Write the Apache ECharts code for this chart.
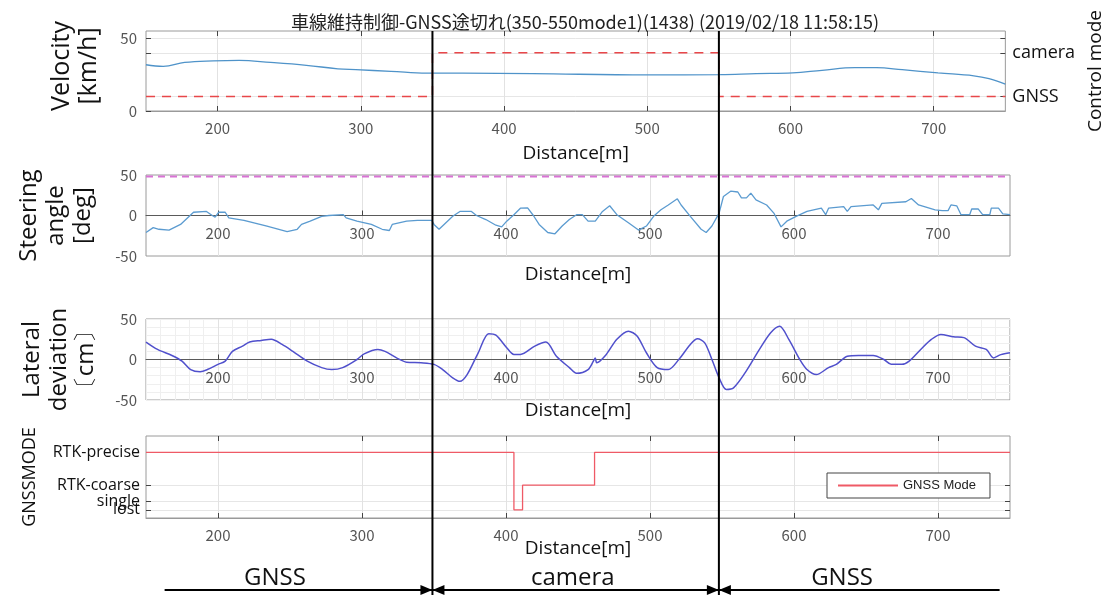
<!DOCTYPE html>
<html><head><meta charset="utf-8">
<script src="https://cdn.jsdelivr.net/npm/echarts@6/dist/echarts.min.js"></script>
<style>html,body{margin:0;padding:0;background:#fff}#c{width:1113px;height:595px}</style>
</head><body><div id="c"></div>
<script>
// ---------------- data ----------------
const titleText = '車線維持制御-GNSS途切れ(350-550mode1)(1438) (2019/02/18 11:58:15)';
const distanceTicks = [200, 300, 400, 500, 600, 700];

const velocityX = [150,162,177,197,215,237,262,284,296.5,321,346,371,420,500,551,576,601.5,622,645,660,678,703,728,738.6,750];
const velocityY = [31.8,30.7,33.4,34.5,34.8,33.4,31.4,29,28.4,27.3,26,26,25.7,24.8,25,25.7,26.2,28,29.8,29.8,28.4,26.2,24.2,22.3,18.5];

const controlModeLevels = { GNSS: 10, camera: 40 };
const controlModeSegments = [['GNSS', 150, 350], ['camera', 350, 550], ['GNSS', 550, 750]];

const steeringX = [150,155,159,166,174,183,192,196,198,200.5,205,207.5,218,234,248,255,258,264,272,277,287,289,296.5,306.5,314,319,321,331,338.5,348.5,350,353.5,357,363,368,376,379.5,386,393,397,400.5,405.5,410,415,419,423,429,434,439,444,449,453,457,462,467,472,477,485,492,497.5,502.5,507.6,512.7,519,521.6,528,535.5,539,543,548,551,556,561,563.5,567,570,573.6,581,586,591,595,601.5,609,619,622,624,634.5,637,639.6,655,658.6,661,677.7,681.5,686.5,698,703,707,709,713,716,722,723.4,728,731,736,737,742,745,750];
const steeringY = [-21,-15,-17,-18,-11,4,5,0,-2,4,4,-3,-6,-13,-20,-17,-11,-7,-1,0,1,-3,-7,-11,-17,-18.5,-11,-7,-6,-6,-11,-17,-11,-1,5,5,0,-5,-12,-14,-7,1,9,9.5,0,-11,-21,-22.6,-13,-5,1,1,-7,-7,5,12,1,-9,-18,-13,-1,7,13,20.6,13,-1,-17,-21,-13,3,23.5,30,29,21.8,21.8,27.6,19.3,13,3,-14,-7,-1,5,9,1,9,11,5,11,13,7,15,17,21,13,7,6,6,13,12,1,1,8,8,1,1,9,9,2,1];
const steeringLimit = 48;

const lateralX = [150,158,168,175,181,187.6,192.6,200,205,210,217,222,230,237,244.5,252,262,272,279,286.6,296.5,301.5,311,316,324,331,341,350,356,363,368,373,380.7,388,393,400.5,405.5,410,420,427.7,435,444,449,457,460.7,462,463,469.5,477,485,491,497.5,505,512.7,520,528,533,538,543,548,553,558,566,576,583.8,590,596.4,604,609,615.5,624,629.4,637,644.7,655,662.4,667.5,675,680,688,695.4,702,710.7,718,726,733.5,738.6,743.6,750];
const lateralY = [21.5,12.4,5,-2,-12.4,-15,-12.4,-6,-2,10,16.5,21.5,23.5,25,18.6,10,-2,-10,-12.4,-10,0,7,12.4,10,2,-3.3,-4,-6,-12.4,-22.7,-27,-18.6,8.3,31.8,30,14.5,6.2,6.2,16.5,21.5,4,-10,-17,-12.4,-2,2,-4,6,25,35,29,8.3,-10,-12.4,0,18.6,25.6,20.6,0,-22.7,-37,-35,-16.5,12.4,33,41,24.8,0,-12.4,-18.6,-10,-6,4,5,5,0,-6,-6,-2,12.4,24.8,31,28,27,16.5,12.4,2,6,8.3];

const gnssModeLevels = { 'lost': 0, 'single': 1, 'RTK-coarse': 3, 'RTK-precise': 7 };
const gnssModeChanges = [[150, 'RTK-precise'], [405.5, 'lost'], [411.5, 'RTK-coarse'], [461.5, 'RTK-precise'], [750, 'RTK-precise']];

const modeBoundaries = [350, 550];
const modeBands = [
  { label: 'GNSS', from: 163, to: 350, labelAt: 240 },
  { label: 'camera', from: 350, to: 550, labelAt: 448 },
  { label: 'GNSS', from: 550, to: 746, labelAt: 636 }
];

// ---------------- build ----------------
const zip = (xs, ys) => xs.map((x, i) => [x, ys[i]]);
const controlData = [];
controlModeSegments.forEach(s => { controlData.push([s[1], controlModeLevels[s[0]]]); controlData.push([s[2], controlModeLevels[s[0]]]); });
const controlNames = {}; Object.keys(controlModeLevels).forEach(k => controlNames[controlModeLevels[k]] = k);
const gnssData = gnssModeChanges.map(c => [c[0], gnssModeLevels[c[1]]]);
const gnssNames = {}; Object.keys(gnssModeLevels).forEach(k => gnssNames[gnssModeLevels[k]] = k);
const gnssValues = Object.values(gnssModeLevels);
const gnssMainLabelValues = gnssValues.filter(v => v !== gnssModeLevels.single);

const GRID_BORDER = '#9a9a9a';
const tickFont = { color: '#555', fontSize: 15, fontFamily: 'Noto Sans CJK JP', hideOverlap: false };
const nameFont = { color: '#111', fontSize: 19, fontFamily: 'Open Sans' };
const yNameFont = { color: '#111', fontSize: 24, fontFamily: 'Open Sans', lineHeight: 27 };
const gnssLabelFont = { color: '#111', fontSize: 16, fontFamily: 'Open Sans', margin: 6, hideOverlap: false, showMinLabel: true, showMaxLabel: true };

function xMain(grid, nameGap, lineColor) {
  return {
    type: 'value', gridIndex: grid, min: 150, max: 750, position: 'bottom',
    axisLine: { show: true, onZero: false, lineStyle: { color: lineColor, width: 1 } },
    axisTick: { show: true, inside: true, length: 5, customValues: distanceTicks, lineStyle: { color: '#444' } },
    axisLabel: Object.assign({ customValues: distanceTicks, margin: 10 }, tickFont),
    splitLine: { show: true, lineStyle: { color: '#e2e2e2' } },
    name: 'Distance[m]', nameLocation: 'middle', nameGap: nameGap, nameMoveOverlap: false, nameTextStyle: nameFont
  };
}
function xTop(grid) {
  return {
    type: 'value', gridIndex: grid, min: 150, max: 750, position: 'top',
    axisLine: { show: false, onZero: false },
    axisTick: { show: true, inside: true, length: 5, customValues: distanceTicks, lineStyle: { color: '#444' } },
    axisLabel: { show: false }, splitLine: { show: false }
  };
}

const option = {
  animation: false,
  backgroundColor: '#fff',
  title: {
    text: titleText, left: 580, top: 8, textAlign: 'center',
    textStyle: { fontSize: 18, fontWeight: 'normal', color: '#222', fontFamily: 'Noto Sans CJK JP' }
  },
  legend: {
    data: ['GNSS Mode'], left: 827, top: 473,
    icon: 'rect', itemWidth: 60, itemHeight: 2,
    borderColor: '#444', borderWidth: 1, backgroundColor: '#fff',
    padding: [6, 14, 6, 11],
    textStyle: { fontSize: 13, color: '#222', fontFamily: 'Liberation Sans' }
  },
  grid: [
    { left: 146, right: 103, top: 31, height: 80, show: true, borderColor: GRID_BORDER, borderWidth: 1 },
    { left: 146, right: 103, top: 175, height: 81, show: true, borderColor: GRID_BORDER, borderWidth: 1 },
    { left: 146, right: 103, top: 319, height: 81, show: true, borderColor: GRID_BORDER, borderWidth: 1 },
    { left: 146, right: 103, top: 436, height: 82, show: true, borderColor: GRID_BORDER, borderWidth: 1 }
  ],
  xAxis: [
    xMain(0, 33, GRID_BORDER),    // 0
    xTop(0),                      // 1
    xMain(1, 50, '#5a5a5a'),      // 2
    { type: 'value', gridIndex: 2, min: 150, max: 750, interval: 10, position: 'top', axisLine: { show: false, onZero: false }, axisTick: { show: false }, axisLabel: { show: false }, splitLine: { show: true, lineStyle: { color: '#efefef' } } }, // 3 minor
    xMain(2, 42, '#5a5a5a'),      // 4
    xMain(3, 21, GRID_BORDER),    // 5
    xTop(3)                       // 6
  ],
  yAxis: [
    { // 0 velocity
      type: 'value', gridIndex: 0, min: 0, max: 55, position: 'left',
      axisLine: { show: false },
      axisTick: { show: true, inside: true, length: 5, customValues: [0, 10, 40, 50], lineStyle: { color: '#444' } },
      axisLabel: Object.assign({ customValues: [0, 50], margin: 9 }, tickFont),
      splitLine: { show: false },
      name: 'Velocity\n[km/h]', nameLocation: 'middle', nameRotate: 90, nameGap: 44,
      nameTextStyle: Object.assign({}, yNameFont, { fontSize: 25, lineHeight: 27, padding: [0, 0, 0, 10] })
    },
    { // 1 control mode
      type: 'value', gridIndex: 0, min: 0, max: 55, position: 'right',
      axisLine: { show: false },
      axisTick: { show: true, inside: true, length: 5, customValues: [10, 40, 50], lineStyle: { color: '#444' } },
      axisLabel: { customValues: [10, 40], formatter: v => controlNames[v] || '', color: '#111', fontSize: 18, fontFamily: 'Open Sans', margin: 7, hideOverlap: false, showMinLabel: true, showMaxLabel: true },
      splitLine: { show: true, lineStyle: { color: '#e6e6e6' } },
      name: 'Control mode', nameLocation: 'middle', nameRotate: 90, nameGap: 75,
      nameTextStyle: { color: '#111', fontSize: 19, fontFamily: 'Open Sans' }
    },
    { // 2 steering
      type: 'value', gridIndex: 1, min: -50, max: 50, interval: 50, position: 'left',
      axisLine: { show: false }, axisTick: { show: false },
      axisLabel: Object.assign({ margin: 9 }, tickFont),
      splitLine: { show: false },
      name: 'Steering\nangle\n[deg]', nameLocation: 'middle', nameRotate: 90, nameGap: 49, nameTextStyle: yNameFont
    },
    { // 3 lateral minor
      type: 'value', gridIndex: 2, min: -50, max: 50, interval: 10, position: 'right',
      axisLine: { show: false }, axisTick: { show: false }, axisLabel: { show: false },
      splitLine: { show: true, lineStyle: { color: '#efefef' } }
    },
    { // 4 lateral
      type: 'value', gridIndex: 2, min: -50, max: 50, interval: 50, position: 'left',
      axisLine: { show: false }, axisTick: { show: false },
      axisLabel: Object.assign({ margin: 9 }, tickFont),
      splitLine: { show: false },
      name: 'Lateral\ndeviation\n〔cm〕', nameLocation: 'middle', nameRotate: 90, nameGap: 46, nameTextStyle: yNameFont
    },
    { // 5 gnss
      type: 'value', gridIndex: 3, min: -1, max: 9, position: 'left',
      axisLine: { show: false },
      axisTick: { show: true, inside: true, length: 5, customValues: gnssValues, lineStyle: { color: '#444' } },
      axisLabel: Object.assign({ customValues: gnssMainLabelValues, formatter: v => gnssNames[v] || '' }, gnssLabelFont),
      splitLine: { show: true, lineStyle: { color: '#e6e6e6' } },
      name: 'GNSSMODE', nameLocation: 'middle', nameRotate: 90, nameGap: 107,
      nameTextStyle: { color: '#111', fontSize: 18, fontFamily: 'Open Sans' }
    },
    { // 6 gnss right ticks
      type: 'value', gridIndex: 3, min: -1, max: 9, position: 'right',
      axisLine: { show: false },
      axisTick: { show: true, inside: true, length: 5, customValues: gnssValues, lineStyle: { color: '#444' } },
      axisLabel: { show: false }, splitLine: { show: false }
    },
    { // 7 gnss 'single' label (drawn on its own so the tight label pair both show)
      type: 'value', gridIndex: 3, min: -1, max: 9, position: 'left',
      axisLine: { show: false }, axisTick: { show: false }, splitLine: { show: false },
      axisLabel: Object.assign({ customValues: [gnssModeLevels.single], formatter: v => gnssNames[v] || '', padding: [0, 0, 8, 0] }, gnssLabelFont)
    }
  ],
  series: [
    { name: 'Velocity', type: 'line', xAxisIndex: 0, yAxisIndex: 0, data: zip(velocityX, velocityY), smooth: 0.4, showSymbol: false, lineStyle: { color: '#4f93c9', width: 1.3 } },
    { name: 'Control mode', type: 'line', xAxisIndex: 0, yAxisIndex: 1, data: controlData, showSymbol: false, lineStyle: { color: '#e8474a', width: 1.5, type: [9, 7] } },
    { name: 'Steering limit', type: 'line', xAxisIndex: 2, yAxisIndex: 2, data: [[150, steeringLimit], [750, steeringLimit]], showSymbol: false, lineStyle: { color: '#d873d4', width: 2, type: [7, 5] } },
    { name: 'Steering', type: 'line', xAxisIndex: 2, yAxisIndex: 2, data: zip(steeringX, steeringY), showSymbol: false, lineStyle: { color: '#5b9bd0', width: 1.3 } },
    { name: 'Lateral', type: 'line', xAxisIndex: 4, yAxisIndex: 4, data: zip(lateralX, lateralY), smooth: 0.3, showSymbol: false, lineStyle: { color: '#5050cc', width: 1.5 } },
    { name: 'GNSS Mode', type: 'line', step: 'end', xAxisIndex: 5, yAxisIndex: 5, data: gnssData, showSymbol: false, color: '#ef5a66', lineStyle: { color: '#ef5a66', width: 1.3 } }
  ]
};

const chart = echarts.init(document.getElementById('c'), null, { renderer: 'canvas' });
chart.setOption(option);

// Move the steering / lateral distance axes onto their zero lines (MATLAB "origin" style),
// using the library's own y scales to find where zero is.
const zeroShift = yIdx => chart.convertToPixel({ yAxisIndex: yIdx }, -50) - chart.convertToPixel({ yAxisIndex: yIdx }, 0);
chart.setOption({ xAxis: [{}, {}, { offset: -zeroShift(2) }, {}, { offset: -zeroShift(4) }, {}, {}] });

// ---------------- annotations (positions from the library's scales) ----------------
const px = v => chart.convertToPixel({ xAxisIndex: 0 }, v);
const topY = chart.convertToPixel({ yAxisIndex: 0 }, 55);
const H = 595, arrowY = 590, textY = 578, ah = 12, aw = 5;
const g = [];
modeBoundaries.forEach(b => {
  const x = px(b);
  g.push({ type: 'line', shape: { x1: x, y1: topY, x2: x, y2: H }, style: { stroke: '#000', lineWidth: 2 }, z: 100 });
});
modeBands.forEach(band => {
  const x1 = px(band.from), x2 = px(band.to);
  g.push({ type: 'line', shape: { x1: x1, y1: arrowY, x2: x2, y2: arrowY }, style: { stroke: '#000', lineWidth: 2 }, z: 100 });
  if (modeBoundaries.indexOf(band.to) >= 0) {
    g.push({ type: 'polygon', shape: { points: [[x2, arrowY], [x2 - ah, arrowY - aw], [x2 - ah, arrowY + aw]] }, style: { fill: '#000' }, z: 100 });
  }
  if (modeBoundaries.indexOf(band.from) >= 0) {
    g.push({ type: 'polygon', shape: { points: [[x1, arrowY], [x1 + ah, arrowY - aw], [x1 + ah, arrowY + aw]] }, style: { fill: '#000' }, z: 100 });
  }
  g.push({ type: 'text', x: px(band.labelAt), y: textY, style: { text: band.label, fill: '#111', font: '24px "Open Sans"', align: 'center', verticalAlign: 'middle' }, z: 100 });
});
chart.setOption({ graphic: g });
</script>
</body></html>
